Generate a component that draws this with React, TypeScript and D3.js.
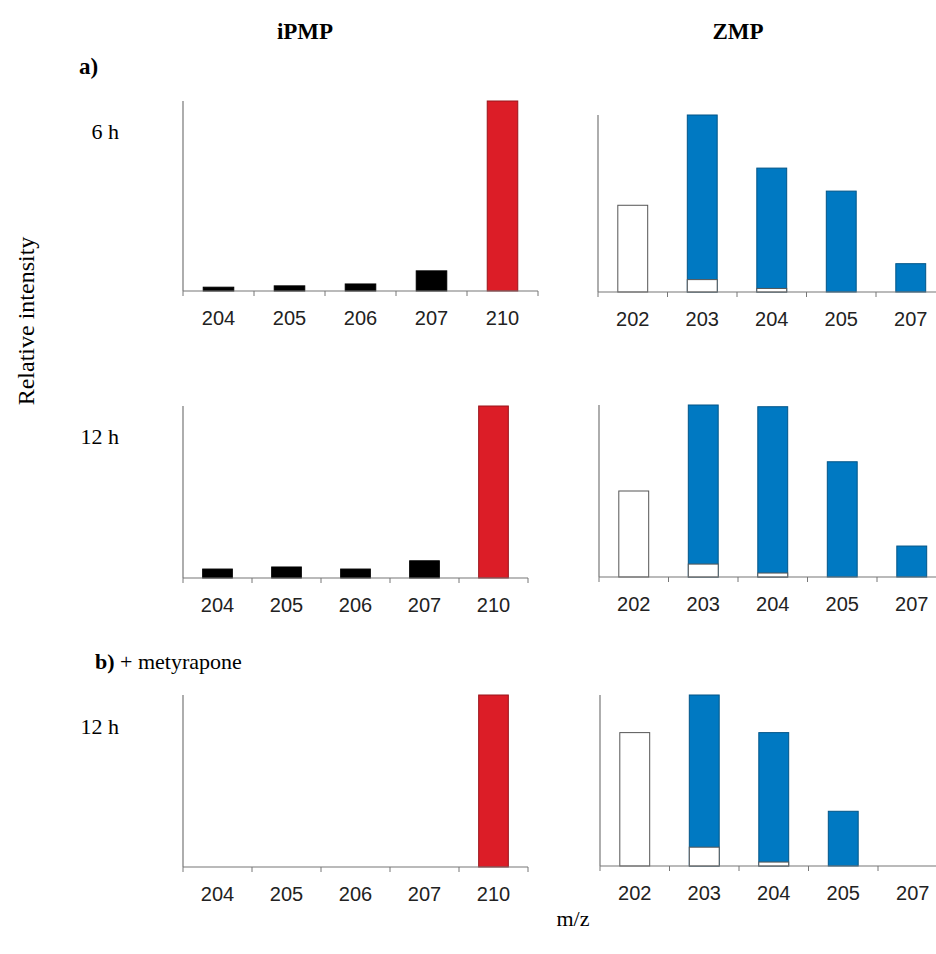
import React from "react";
import * as d3 from "d3";

// m/z categories
const ipmpMz = ["204", "205", "206", "207", "210"];
const zmpMz = ["202", "203", "204", "205", "207"];

// relative intensities (% of the largest peak)
const ipmp6h = [2, 2.7, 3.7, 10.6, 100];
const ipmp12h = [5.2, 6.4, 5.2, 10, 100];
const ipmpMety12h = [0, 0, 0, 0, 100];

// ZMP: total height and the unlabelled (white) part at the bottom
const zmp6hTotal = [49, 100, 70, 57, 16];
const zmp6hWhite = [49, 7, 2, 0, 0];
const zmp12hTotal = [50, 100, 99, 67, 18];
const zmp12hWhite = [50, 7.5, 2.3, 0, 0];
const zmpMety12hTotal = [78, 100, 78, 32, 0];
const zmpMety12hWhite = [78, 11, 2.3, 0, 0];

const RED = "#dc1d27";
const BLUE = "#0079c2";
const AXIS = "#777";

type PanelProps = {
  x0: number;
  step: number;
  yTop: number;
  yBase: number;
  labels: string[];
  values: number[];
  white?: number[];
  colors: string[];
};

const Panel = ({ x0, step, yTop, yBase, labels, values, white, colors }: PanelProps) => {
  const x = d3
    .scaleBand()
    .domain(labels)
    .range([x0, x0 + step * labels.length])
    .paddingInner(0.57)
    .paddingOuter(0.285);
  const y = d3.scaleLinear().domain([0, 100]).range([yBase, yTop]);
  const bw = x.bandwidth();

  return (
    <g>
      {labels.map((l, i) => {
        const v = values[i];
        const w = white ? white[i] : 0;
        const bx = x(l) as number;
        return (
          <g key={l}>
            {v > 0 && (
              <rect
                x={bx}
                y={y(v)}
                width={bw}
                height={y(0) - y(v)}
                fill={colors[i]}
                stroke={colors[i] === "#fff" ? "#555" : d3.color(colors[i])!.darker(1).toString()}
                strokeWidth={1}
              />
            )}
            {w > 0 && v > w && (
              <rect
                x={bx}
                y={y(w)}
                width={bw}
                height={y(0) - y(w)}
                fill="#fff"
                stroke="#555"
                strokeWidth={1}
              />
            )}
          </g>
        );
      })}
      {/* y axis */}
      <line x1={x0} x2={x0} y1={yTop} y2={yBase} stroke={AXIS} strokeWidth={1.2} />
      {/* x axis */}
      <line x1={x0} x2={x0 + step * labels.length} y1={yBase} y2={yBase} stroke={AXIS} strokeWidth={1.2} />
      {d3.range(labels.length + 1).map((i) => (
        <line
          key={i}
          x1={x0 + i * step}
          x2={x0 + i * step}
          y1={yBase}
          y2={yBase + 5}
          stroke={AXIS}
          strokeWidth={1}
        />
      ))}
      {labels.map((l) => (
        <text
          key={l}
          x={(x(l) as number) + bw / 2}
          y={yBase + 34}
          textAnchor="middle"
          fontFamily="Liberation Sans, Arial, sans-serif"
          fontSize={20}
          fill="#222"
        >
          {l}
        </text>
      ))}
    </g>
  );
};

const ipmpColors = ["#000", "#000", "#000", "#000", RED];
const zmpColors = ["#fff", BLUE, BLUE, BLUE, BLUE];

const serif = "Liberation Serif, Times New Roman, serif";

export default function App() {
  return (
    <svg
      width={936}
      height={954}
      style={{ position: "absolute", left: 0, top: 0, background: "#fff" }}
    >
      <text x={305} y={39} textAnchor="middle" fontFamily={serif} fontWeight="bold" fontSize={23}>
        iPMP
      </text>
      <text x={738} y={39} textAnchor="middle" fontFamily={serif} fontWeight="bold" fontSize={23}>
        ZMP
      </text>
      <text x={79} y={74} fontFamily={serif} fontWeight="bold" fontSize={23}>
        a)
      </text>
      <text x={119} y={139} textAnchor="end" fontFamily={serif} fontSize={22}>
        6 h
      </text>
      <text x={119} y={444} textAnchor="end" fontFamily={serif} fontSize={22}>
        12 h
      </text>
      <text x={95} y={669} fontFamily={serif} fontSize={22}>
        <tspan fontWeight="bold">b)</tspan> + metyrapone
      </text>
      <text x={119} y={734} textAnchor="end" fontFamily={serif} fontSize={22}>
        12 h
      </text>
      <text
        transform="translate(34,321) rotate(-90)"
        textAnchor="middle"
        fontFamily={serif}
        fontSize={24}
      >
        Relative intensity
      </text>
      <text x={573} y={926} textAnchor="middle" fontFamily={serif} fontSize={22}>
        m/z
      </text>

      <Panel x0={183} step={71} yTop={101} yBase={291} labels={ipmpMz} values={ipmp6h} colors={ipmpColors} />
      <Panel
        x0={598}
        step={69.5}
        yTop={115}
        yBase={292}
        labels={zmpMz}
        values={zmp6hTotal}
        white={zmp6hWhite}
        colors={zmpColors}
      />
      <Panel x0={183} step={69} yTop={406} yBase={578} labels={ipmpMz} values={ipmp12h} colors={ipmpColors} />
      <Panel
        x0={599}
        step={69.5}
        yTop={405}
        yBase={577}
        labels={zmpMz}
        values={zmp12hTotal}
        white={zmp12hWhite}
        colors={zmpColors}
      />
      <Panel x0={183} step={69} yTop={695} yBase={867} labels={ipmpMz} values={ipmpMety12h} colors={ipmpColors} />
      <Panel
        x0={600}
        step={69.5}
        yTop={695}
        yBase={866}
        labels={zmpMz}
        values={zmpMety12hTotal}
        white={zmpMety12hWhite}
        colors={zmpColors}
      />
    </svg>
  );
}
